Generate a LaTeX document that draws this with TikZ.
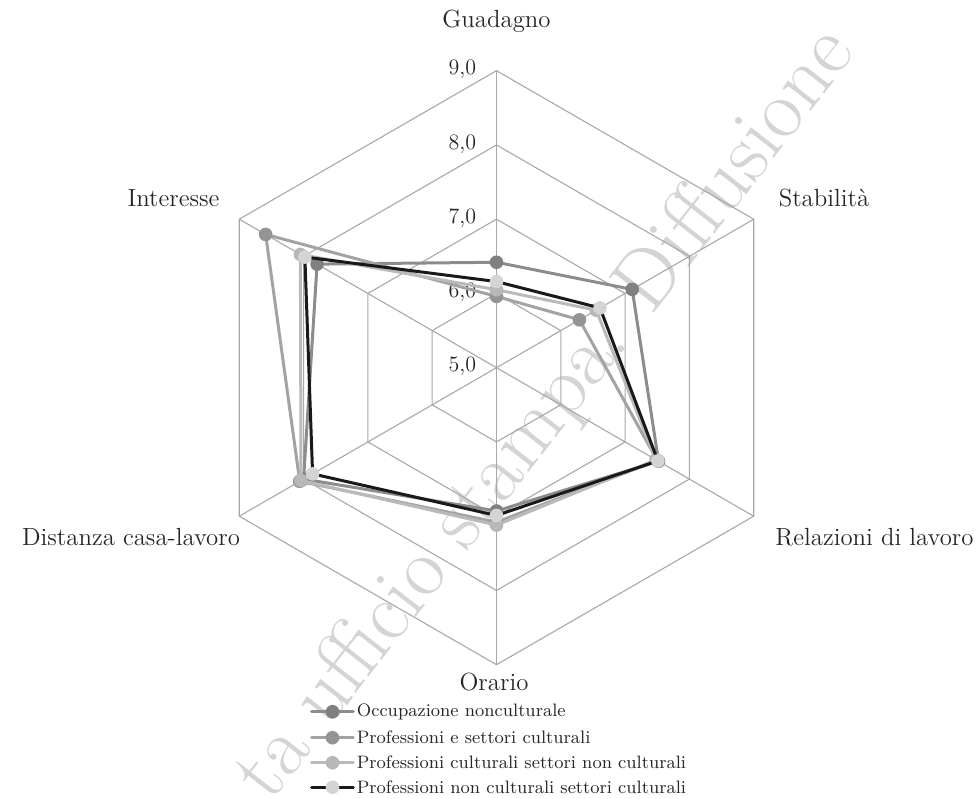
\documentclass[tikz,border=0pt]{standalone}
\usepackage{fontspec}
\usepackage{tikz}
\usetikzlibrary{arrows.meta,calc}
\definecolor{gridgray}{HTML}{A8A8A8}
\tikzset{
  every picture/.style={line join=round, line cap=round},
  grid/.style={gridgray, line width=0.55pt},
  axlabel/.style={font=\fontsize{12.4}{14}\selectfont, text=black!85},
  ticklabel/.style={font=\fontsize{11}{13}\selectfont, text=black!85, anchor=east, inner sep=0pt},
  leglabel/.style={font=\fontsize{9}{11}\selectfont, text=black!85, anchor=west, inner sep=0pt},
  ser a/.style={draw=black!45, line width=1.5pt},
  ser b/.style={draw=black!36, line width=1.5pt},
  ser c/.style={draw=black!27, line width=1.5pt},
  ser d/.style={draw=black!90, line width=1.5pt},
  dot a/.style={fill=black!50},
  dot b/.style={fill=black!42},
  dot c/.style={fill=black!28},
  dot d/.style={fill=black!17},
}

\begin{document}
\begin{tikzpicture}[x=0.5pt,y=0.5pt]
\useasboundingbox (-496.5,-430.3) rectangle (482.5,367.7);
% watermark
\node[text=black!17, rotate=52, anchor=base west, inner sep=0pt, font=\fontsize{42}{44}\selectfont] (wm) at (-226,-436) {ta ufficio stampa. Diffusione};
% grid
\foreach \k in {1,...,4}
  \draw[grid] (90:\k*74.25) -- (30:\k*74.25) -- (-30:\k*74.25) -- (-90:\k*74.25) -- (210:\k*74.25) -- (150:\k*74.25) -- cycle;
\foreach \a in {90,30,-30,-90,210,150}
  \draw[grid] (0,0) -- (\a:297);
\foreach \v [count=\k from 0] in {5,6,7,8,9}
  \node[ticklabel] (tick\v) at (-20,\k*74.25+1) {\v,0};
% axis labels
\node[axlabel] (guadagno) at (0,346.7) {Guadagno};
\node[axlabel] (stabilita) at (327.5,169.7) {Stabilità};
\node[axlabel] (relazioni) at (378,-169.3) {Relazioni di lavoro};
\node[axlabel] (orario) at (-2.5,-314) {Orario};
\node[axlabel] (distanza) at (-365.5,-169.3) {Distanza casa-lavoro};
\node[axlabel] (interesse) at (-323,169.7) {Interesse};
% series
\foreach \s/\vals in {a/{6.42,7.11,7.52,6.93,8.00,7.79},
                      b/{5.96,6.29,7.50,7.08,8.06,8.59},
                      c/{6.05,6.55,7.48,7.12,8.04,8.05},
                      d/{6.16,6.61,7.51,6.99,7.86,7.98}}{
  \foreach \v [count=\i] in \vals
    \coordinate (\s\i) at ({90-60*(\i-1)}:{(\v-5)*74.25});
  \draw[ser \s] (\s1) -- (\s2) -- (\s3) -- (\s4) -- (\s5) -- (\s6) -- cycle;
  \foreach \i in {1,...,6}
    \fill[dot \s] (\s\i) circle[radius=6.8];
}
% legend
\foreach \s/\y/\txt in {a/-344/Occupazione nonculturale,
                        b/-370/Professioni e settori culturali,
                        c/-395/Professioni culturali settori non culturali,
                        d/-419.6/Professioni non culturali settori culturali}{
  \coordinate (l\s) at (-184.8,\y);
  \coordinate (r\s) at (-143.2,\y);
  \draw[ser \s] (l\s) -- (r\s);
  \fill[dot \s] ($(l\s)!0.5!(r\s)$) circle[radius=6.8];
  \node[leglabel] (leg\s) at (-140,\y) {\txt};
}
\end{tikzpicture}
\end{document}
